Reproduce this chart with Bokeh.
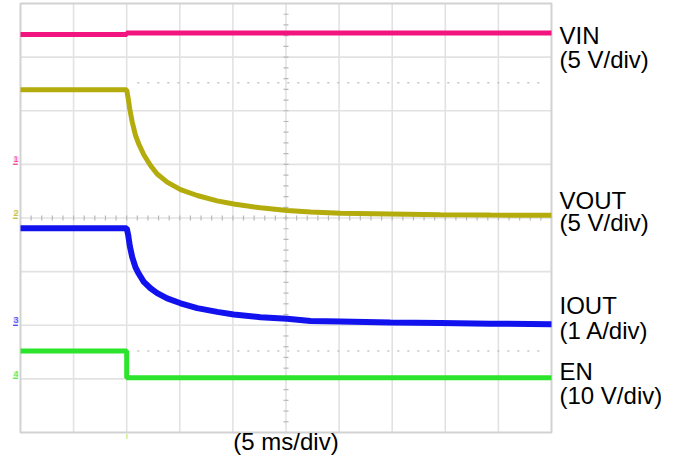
import numpy as np
from bokeh.plotting import figure
from bokeh.models import Range1d, Label
from bokeh.embed import file_html
from bokeh.resources import INLINE

# ---- data (time in ms, amplitude in divisions) ----
vin_t = [-25, -15, -15, 25]
vin_v = [3.42, 3.42, 3.45, 3.45]

vout_t = [-25, -15.0, -14.85, -14.71, -14.48, -14.17, -13.86, -13.39, -12.76, -12.13,
          -11.19, -9.93, -8.36, -6.48, -4.92, -2.40, 0.11, 2.31, 5.13, 9.84, 14.55, 19.26, 25]
vout_v = [2.39, 2.39, 2.22, 2.03, 1.79, 1.54, 1.38, 1.18, 0.98, 0.82,
          0.67, 0.53, 0.42, 0.32, 0.26, 0.19, 0.14, 0.11, 0.09, 0.075, 0.06, 0.055, 0.05]

iout_t = [-25, -15.0, -14.85, -14.71, -14.48, -14.17, -13.86, -13.39, -12.76, -12.13,
          -11.19, -9.93, -8.36, -6.48, -4.92, -2.40, 0.11, 2.31, 5.13, 9.84, 14.55, 19.26, 25]
iout_v = [-0.19, -0.19, -0.33, -0.52, -0.73, -0.92, -1.04, -1.19, -1.31, -1.40,
          -1.50, -1.59, -1.68, -1.75, -1.80, -1.85, -1.88, -1.92, -1.93, -1.95, -1.96, -1.97, -1.98]

en_t = [-25, -15, -15, 25]
en_v = [-2.48, -2.48, -2.98, -2.98]

x_grid_ticks = [-25, -20, -15, -10, -5, 0, 5, 10, 15, 20, 25]
y_grid_ticks = [-4, -3, -2, -1, 0, 1, 2, 3, 4]

cursor_levels = [2.52, -2.48]
cursor_span = [-14.0, 24.2]

trace_names = ["VIN", "VOUT", "IOUT", "EN"]
trace_scales = ["(5 V/div)", "(5 V/div)", "(1 A/div)", "(10 V/div)"]
trace_colors = ["#F2157F", "#B3AC0C", "#1212EE", "#2BE42B"]
label_y1 = [3.217, 0.140, -1.818, -3.043]
label_y2 = [2.769, -0.270, -2.284, -3.497]
ground_levels = [1, 0, -2, -3]
channel_ids = ["1", "2", "3", "4"]
trigger_time = -15
time_label = "(5 ms/div)"
time_label_y = -4.354

FONT = "Liberation Sans"
BASELINE_FIX = 10  # px, lifts Bokeh's alphabetic baseline onto the intended line

x0, x1 = x_grid_ticks[0], x_grid_ticks[-1]
y0, y1 = y_grid_ticks[0], y_grid_ticks[-1]

# frame covers the whole canvas; the scope screen is a sub-region of it
p = figure(width=661, height=457, output_backend="svg", toolbar_location=None,
           x_range=Range1d(-26.883, 35.358), y_range=Range1d(-4.466, 4.056))
p.min_border_left = p.min_border_right = p.min_border_top = p.min_border_bottom = 0
p.axis.visible = False
p.grid.visible = False
p.outline_line_color = None
p.background_fill_color = "white"
p.border_fill_color = "white"

GRID = "#E2E2E2"
inner_x = x_grid_ticks[1:-1]
inner_y = y_grid_ticks[1:-1]
p.segment(x0=inner_x, y0=[y0] * len(inner_x), x1=inner_x, y1=[y1] * len(inner_x),
          line_color=GRID, line_width=1.6)
p.segment(x0=[x0] * len(inner_y), y0=inner_y, x1=[x1] * len(inner_y), y1=inner_y,
          line_color=GRID, line_width=1.6)

# minor ticks on the centre lines
xt = np.arange(x0, x1 + 0.01, 1.0)
yt = np.arange(y0, y1 + 0.01, 0.2)
p.dash(xt, np.zeros_like(xt), size=5, angle=np.pi / 2, line_color="#B8B8B8", line_width=1.2)
p.dash(np.zeros_like(yt), yt, size=5, line_color="#B8B8B8", line_width=1.2)

# border of the screen
p.rect(x=[(x0 + x1) / 2], y=[(y0 + y1) / 2], width=[x1 - x0], height=[y1 - y0],
       fill_color=None, line_color="#D2D2D2", line_width=2)

# cursor dotted lines
for lvl in cursor_levels:
    p.line(cursor_span, [lvl, lvl], line_color="#C4C4C4", line_width=1.5, line_dash="2 8")

# traces
p.line(vin_t, vin_v, line_color=trace_colors[0], line_width=5)
p.line(vout_t, vout_v, line_color=trace_colors[1], line_width=5)
p.line(iout_t, iout_v, line_color=trace_colors[2], line_width=6)
p.line(en_t, en_v, line_color=trace_colors[3], line_width=5)

# right-hand labels
for name, sc, ya, yb in zip(trace_names, trace_scales, label_y1, label_y2):
    p.add_layout(Label(x=x1, y=ya, x_offset=8, y_offset=BASELINE_FIX, text=name, text_font=FONT,
                       text_font_size="24px", text_color="black", text_baseline="alphabetic"))
    p.add_layout(Label(x=x1, y=yb, x_offset=8, y_offset=BASELINE_FIX, text=sc, text_font=FONT,
                       text_font_size="24px", text_color="black", text_baseline="alphabetic"))

# channel ground markers
for cid, lvl, col in zip(channel_ids, ground_levels, trace_colors):
    p.add_layout(Label(x=x0, y=lvl, x_offset=-4.5, y_offset=2, text=cid, text_font=FONT,
                       text_font_size="9px", text_color=col, text_alpha=0.8,
                       text_align="center", text_baseline="bottom",
                       background_fill_color=col, background_fill_alpha=0.2))
    p.add_layout(Label(x=x0, y=lvl, x_offset=-4.5, text="\u2501", text_font=FONT,
                       text_font_size="8px", text_color=col, text_alpha=0.8,
                       text_align="center", text_baseline="middle"))

# trigger marker
p.add_layout(Label(x=trigger_time, y=y0, y_offset=-3, text="|", text_font=FONT,
                   text_font_size="6px", text_color=trace_colors[3],
                   text_align="center", text_baseline="middle"))

# time-base label
p.add_layout(Label(x=0, y=time_label_y, y_offset=BASELINE_FIX, text=time_label, text_font=FONT,
                   text_font_size="24px", text_color="black", text_align="center",
                   text_baseline="alphabetic"))

open("out.html", "w").write(file_html(p, INLINE))
